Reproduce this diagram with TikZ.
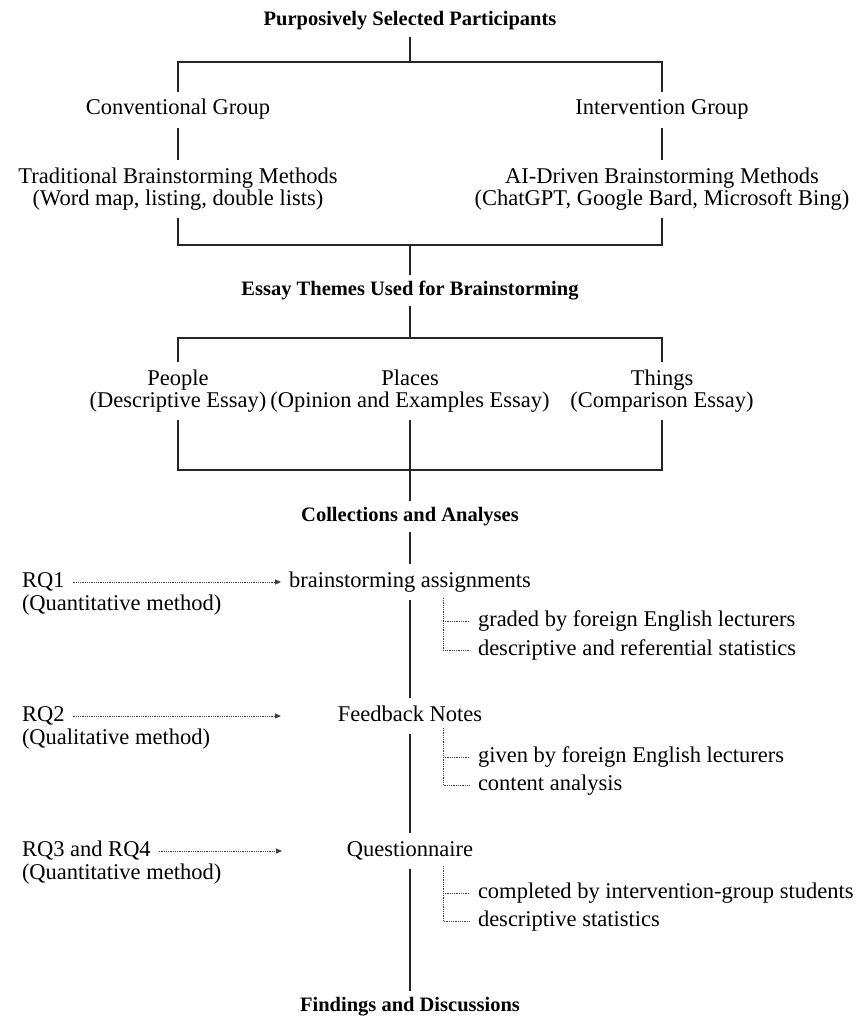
\documentclass[tikz,border=0pt]{standalone}
\usepackage{fontspec}
\setmainfont{Liberation Serif}
\usetikzlibrary{arrows.meta,calc}
\begin{document}
\begin{tikzpicture}[x=1pt,y=-1pt,
  txt/.style={font=\fontsize{22.5}{22}\selectfont, inner sep=8pt, outer sep=0pt, text height=15pt, text depth=5pt},
  two/.style={font=\fontsize{22.5}{22}\selectfont, inner sep=8pt, outer sep=0pt, align=center},
  head/.style={font=\fontsize{20.5}{20}\selectfont\bfseries, inner sep=6pt, outer sep=0pt, text height=14pt, text depth=5pt},
  conn/.style={line width=1.6pt, black!85},
  dotline/.style={line width=0.9pt, black!75, dash pattern=on 0.9pt off 0.9pt},
  dotarrow/.style={dotline, -{Triangle[length=6pt,width=5pt]}}]
\useasboundingbox (0,0) rectangle (856,1016);
% main column
\node[head, anchor=base] (title) at (410,26) {Purposively Selected Participants};
\node[txt, anchor=base] (conv) at (178,115) {Conventional Group};
\node[txt, anchor=base] (interv) at (662,115) {Intervention Group};
\node[two, anchor=north] (trad) at (178,160) {Traditional Brainstorming Methods\\(Word map, listing, double lists)};
\node[two, anchor=north] (ai) at (662,160) {AI-Driven Brainstorming Methods\\(ChatGPT, Google Bard, Microsoft Bing)};
\node[head, anchor=base] (themes) at (410,295) {Essay Themes Used for Brainstorming};
\node[two, anchor=north] (people) at (178,362) {People\\(Descriptive Essay)};
\node[two, anchor=north] (places) at (410,362) {Places\\(Opinion and Examples Essay)};
\node[two, anchor=north] (things) at (662,362) {Things\\(Comparison Essay)};
\node[head, anchor=base] (coll) at (410,521) {Collections and Analyses};
\node[txt, anchor=base] (ba) at (410,587) {brainstorming assignments};
\node[txt, anchor=base] (fn) at (410,721) {Feedback Notes};
\node[txt, anchor=base] (q) at (410,856) {Questionnaire};
\node[head, anchor=base] (find) at (410,1011) {Findings and Discussions};
% left labels
\node[txt, anchor=base west] (rq1) at (14,587) {RQ1};
\node[txt, anchor=base west] (m1) at (14,610) {(Quantitative method)};
\node[txt, anchor=base west] (rq2) at (14,721) {RQ2};
\node[txt, anchor=base west] (m2) at (14,744) {(Qualitative method)};
\node[txt, anchor=base west] (rq3) at (14,856) {RQ3 and RQ4};
\node[txt, anchor=base west] (m3) at (14,879) {(Quantitative method)};
% sub items
\node[txt, anchor=base west] (s1) at (470,626) {graded by foreign English lecturers};
\node[txt, anchor=base west] (s2) at (470,655) {descriptive and referential statistics};
\node[txt, anchor=base west] (s3) at (470,762) {given by foreign English lecturers};
\node[txt, anchor=base west] (s4) at (470,790) {content analysis};
\node[txt, anchor=base west] (s5) at (470,898) {completed by intervention-group students};
\node[txt, anchor=base west] (s6) at (470,926) {descriptive statistics};
% junctions
\coordinate (j1) at (410,62);
\coordinate (j2) at (410,245);
\coordinate (j3) at (410,338);
\coordinate (j4) at (410,470);
\coordinate (v1) at (443,598);
\coordinate (v2) at (443,728);
\coordinate (v3) at (443,866);
\coordinate (a2) at (281,716);
\coordinate (a3) at (282,851);
% tree connectors
\draw[conn] (title.south) -- (j1);
\draw[conn] (conv.north) |- (j1) -| (interv.north);
\draw[conn] (conv.south) -- (trad.north);
\draw[conn] (interv.south) -- (ai.north);
\draw[conn] (trad.south) |- (j2) -| (ai.south);
\draw[conn] (j2) -- (themes.north);
\draw[conn] (themes.south) -- (j3);
\draw[conn] (people.north) |- (j3) -| (things.north);
\draw[conn] (people.south) |- (j4) -| (things.south);
\draw[conn] (places.south) -- (coll.north);
\draw[conn] (coll.south) -- (ba.north);
\draw[conn] (ba.south) -- (fn.north);
\draw[conn] (fn.south) -- (q.north);
\draw[conn] (q.south) -- (find.north);
% RQ arrows
\draw[dotarrow] (rq1.east) -- (ba.west);
\draw[dotarrow] (rq2.east) -- (a2);
\draw[dotarrow] (rq3.east) -- (a3);
% dotted brackets
\draw[dotline] (v1) |- (s2.west);
\draw[dotline] (v1 |- s1.west) -- (s1.west);
\draw[dotline] (v2) |- (s4.west);
\draw[dotline] (v2 |- s3.west) -- (s3.west);
\draw[dotline] (v3) |- (s6.west);
\draw[dotline] (v3 |- s5.west) -- (s5.west);
\end{tikzpicture}
\end{document}
